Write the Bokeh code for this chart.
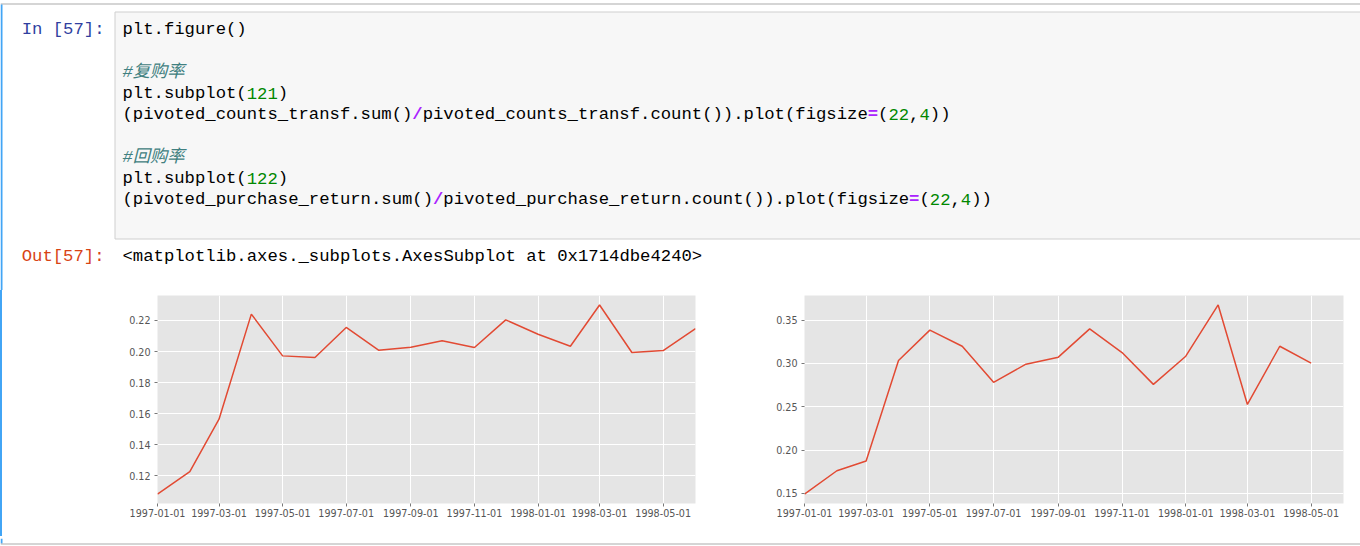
import pandas as pd
from bokeh.core.properties import value
from bokeh.embed import file_html
from bokeh.layouts import column, row
from bokeh.models import (ColumnDataSource, DatetimeTickFormatter, FixedTicker,
                          NumeralTickFormatter, Range1d, Spacer)
from bokeh.plotting import figure
from bokeh.resources import INLINE

# ---- data ----
months = ["1997-01", "1997-02", "1997-03", "1997-04", "1997-05", "1997-06",
          "1997-07", "1997-08", "1997-09", "1997-10", "1997-11", "1997-12",
          "1998-01", "1998-02", "1998-03", "1998-04", "1998-05", "1998-06"]

# 复购率 (left)
repurchase_rate = [0.1082, 0.1226, 0.1564, 0.2241, 0.1972, 0.1962,
                   0.2155, 0.2009, 0.2028, 0.2070, 0.2026, 0.2204,
                   0.2111, 0.2034, 0.2300, 0.1994, 0.2006, 0.2147]

# 回购率 (right), one month shorter
return_months = months[:17]
return_rate = [0.1492, 0.1761, 0.1874, 0.3034, 0.3385, 0.3199,
               0.2782, 0.2992, 0.3073, 0.3400, 0.3126, 0.2759,
               0.3084, 0.3676, 0.2527, 0.3199, 0.3004]

x_tick_labels = ["1997-01-01", "1997-03-01", "1997-05-01", "1997-07-01",
                 "1997-09-01", "1997-11-01", "1998-01-01", "1998-03-01",
                 "1998-05-01"]
left_y_ticks = [0.12, 0.14, 0.16, 0.18, 0.20, 0.22]
right_y_ticks = [0.15, 0.20, 0.25, 0.30, 0.35]

# notebook cell text: (text, kind)
code_lines = [
    [("plt.figure()", "code")],
    [],
    [("#复购率", "comment")],
    [("plt.subplot(", "code"), ("121", "number"), (")", "code")],
    [("(pivoted_counts_transf.sum()", "code"), ("/", "op"),
     ("pivoted_counts_transf.count()).plot(figsize", "code"), ("=", "op"),
     ("(", "code"), ("22", "number"), (",", "code"), ("4", "number"), ("))", "code")],
    [],
    [("#回购率", "comment")],
    [("plt.subplot(", "code"), ("122", "number"), (")", "code")],
    [("(pivoted_purchase_return.sum()", "code"), ("/", "op"),
     ("pivoted_purchase_return.count()).plot(figsize", "code"), ("=", "op"),
     ("(", "code"), ("22", "number"), (",", "code"), ("4", "number"), ("))", "code")],
]
in_prompt = "In [57]:"
out_prompt = "Out[57]:"
out_text = "<matplotlib.axes._subplots.AxesSubplot at 0x1714dbe4240>"

kinds = {
    "code": ("#000000", "normal"),
    "comment": ("#408080", "italic"),
    "number": ("#008800", "normal"),
    "op": ("#AA22FF", "bold"),
}

# ---- layout ----
PAGE_W = 1360
HEAD_H = 290
CHART_H = 246
FOOT_H = 10
CODE_SIZE = 17.25
CHAR_W = 0.6 * CODE_SIZE
LINE_H = 21.3
MONO = value("Liberation Mono, Noto Sans CJK SC")
TICK_FONT = "DejaVu Sans"
BLUE = "#42A5F5"
CELL_GREY = "#ababab"


def blank(width, height, y_top, y_bottom):
    p = figure(width=width, height=height, x_range=Range1d(0, width),
               y_range=Range1d(y_bottom, y_top), output_backend="svg",
               toolbar_location=None, min_border=0, x_axis_location=None,
               y_axis_location=None, outline_line_color=None)
    p.grid.grid_line_color = None
    return p


head = blank(PAGE_W, HEAD_H, 0, HEAD_H)
head.segment(x0=0, y0=3.5, x1=PAGE_W, y1=3.5, line_color=CELL_GREY, line_width=1)
head.quad(left=0, right=2, top=4, bottom=HEAD_H, fill_color=BLUE, line_color=None)
head.quad(left=114.5, right=PAGE_W + 5, top=11.5, bottom=238.5,
          fill_color="#f7f7f7", line_color="#cfcfcf", line_width=1)

xs, ys, texts, colors, styles = [], [], [], [], []
for i, line in enumerate(code_lines):
    col = 0
    for txt, kind in line:
        xs.append(122 + col * CHAR_W)
        ys.append(29 + i * LINE_H)
        texts.append(txt)
        colors.append(kinds[kind][0])
        styles.append(kinds[kind][1])
        col += len(txt)
xs.append(122)
ys.append(256)
texts.append(out_text)
colors.append("#000000")
styles.append("normal")

code_src = ColumnDataSource(data=dict(x=xs, y=ys, text=texts, color=colors, style=styles))
head.text(x="x", y="y", text="text", source=code_src, text_color="color",
          text_font_style="style", text_font=MONO, text_font_size=f"{CODE_SIZE}px",
          text_baseline="middle", text_align="left")

head.text(x=[104, 104], y=[29, 256], text=[in_prompt, out_prompt],
          text_color=["#303F9F", "#D84315"], text_font=MONO,
          text_font_size=f"{CODE_SIZE}px", text_baseline="middle", text_align="right")


def rate_chart(x_vals, y_vals, y_ticks, width, border_left, border_right):
    lo, hi = min(y_vals), max(y_vals)
    pad = (hi - lo) * 0.05
    p = figure(width=width, height=CHART_H, x_axis_type="datetime",
               x_range=Range1d(pd.Timestamp(months[0]), pd.Timestamp(months[-1])),
               y_range=Range1d(lo - pad, hi + pad),
               output_backend="svg", toolbar_location=None,
               min_border_left=border_left, min_border_right=border_right,
               min_border_top=5, min_border_bottom=33,
               background_fill_color="#E5E5E5", border_fill_color="white",
               outline_line_color=None)
    src = ColumnDataSource(data=dict(x=pd.to_datetime(x_vals), y=y_vals))
    p.line(x="x", y="y", source=src, line_color="#E24A33", line_width=1.5)

    xt = FixedTicker(ticks=[pd.Timestamp(t).timestamp() * 1000 for t in x_tick_labels])
    yt = FixedTicker(ticks=y_ticks)
    p.xaxis.ticker = xt
    p.xgrid.ticker = xt
    p.yaxis.ticker = yt
    p.ygrid.ticker = yt
    fmt = "%Y-%m-%d"
    p.xaxis.formatter = DatetimeTickFormatter(months=fmt, days=fmt, years=fmt,
                                              hours=fmt, minutes=fmt)
    p.yaxis.formatter = NumeralTickFormatter(format="0.00")

    p.grid.grid_line_color = "white"
    p.grid.grid_line_width = 1
    p.axis.axis_line_color = None
    p.axis.major_tick_line_color = "#555555"
    p.axis.major_tick_line_width = 0.8
    p.axis.major_tick_out = 3
    p.axis.major_tick_in = 0
    p.axis.minor_tick_line_color = None
    p.axis.major_label_text_color = "#555555"
    p.axis.major_label_text_font = TICK_FONT
    p.axis.major_label_text_font_size = "9.6px"
    p.xaxis.major_label_standoff = 2
    p.yaxis.major_label_standoff = 4
    return p


left = rate_chart(months, repurchase_rate, left_y_ticks, 738, 155, 45)
right = rate_chart(return_months, return_rate, right_y_ticks, 620, 64, 17)

bar = Spacer(width=2, height=CHART_H, margin=0, styles={"background-color": BLUE})

foot = blank(PAGE_W, FOOT_H, 0, FOOT_H)
foot.quad(left=0, right=2, top=0, bottom=5, fill_color=BLUE, line_color=None)
foot.segment(x0=0, y0=5.5, x1=PAGE_W, y1=5.5, line_color=CELL_GREY, line_width=1)

page = column(head, row(bar, left, right), foot)

open("out.html", "w").write(file_html(page, INLINE))
